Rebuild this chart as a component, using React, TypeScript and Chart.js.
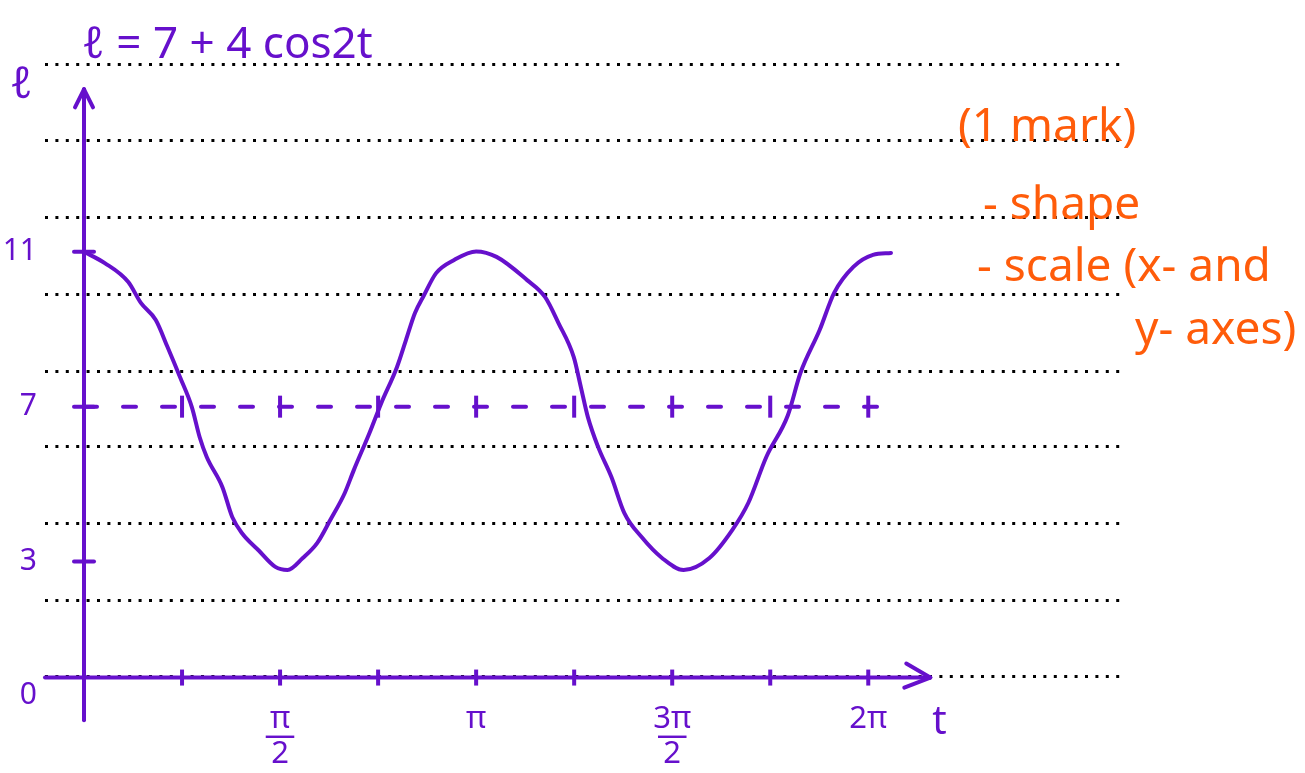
import React, { useEffect, useRef } from "react";
import { Chart, registerables } from "chart.js";

Chart.register(...registerables);

const PURPLE = "#6610cc";
const ORANGE = "#ff5c0a";
const FONT = "'Noto Sans', 'DejaVu Sans', sans-serif";

// Points along the sketched curve: t (in multiples of π) and ℓ
const curveTInPi = [
  0, 0.053, 0.113, 0.145, 0.183, 0.213, 0.245, 0.275, 0.295, 0.313,
  0.353, 0.378, 0.403, 0.445, 0.488, 0.519, 0.558, 0.595, 0.628, 0.665,
  0.688, 0.728, 0.758, 0.798, 0.821, 0.844, 0.867, 0.898, 0.944, 1.0,
  1.052, 1.13, 1.176, 1.21, 1.249, 1.267, 1.285, 1.311, 1.345, 1.378,
  1.422, 1.474, 1.529, 1.595, 1.653, 1.694, 1.74, 1.795, 1.827, 1.876,
  1.913, 1.962, 2.012, 2.058,
];
const curveL = [
  11.0, 10.71, 10.22, 9.68, 9.24, 8.54, 7.76, 6.99, 6.21, 5.7,
  4.92, 4.15, 3.73, 3.29, 2.86, 2.78, 3.09, 3.48, 4.07, 4.77,
  5.36, 6.32, 7.09, 8.02, 8.72, 9.42, 9.88, 10.45, 10.79, 11.01,
  10.87, 10.27, 9.83, 9.16, 8.28, 7.51, 6.73, 5.96, 5.18, 4.25,
  3.63, 3.09, 2.78, 3.09, 3.81, 4.51, 5.7, 6.78, 7.87, 8.98,
  9.94, 10.61, 10.92, 10.97,
];

// Centre line ℓ = 7 and its extent
const meanL = 7;
const meanGuideEndInPi = 2.08;

// Quarter-period marks (multiples of π)
const quarterMarksInPi = [0.25, 0.5, 0.75, 1, 1.25, 1.5, 1.75, 2];

// Axis labels
const yTickValues = [0, 3, 7, 11];
const xLabelTInPi = [0.5, 1, 1.5, 2];
const xLabelText: (string | string[])[] = [["π", "—", "2"], "π", ["3π", "—", "2"], "2π"];

// Ruled notebook lines (in ℓ units)
const ruleLines = [0.04, 2.0, 3.97, 5.96, 7.92, 9.91, 11.9, 13.88, 15.85];

// Scale extents
const xMin = -0.3125;
const xMax = 8.3;
const yMin = -1.2;
const yMax = 16.5;

// Hand-drawn axis extents
const xAxisStart = xMin;
const xArrowTip = 6.78;
const yAxisBottom = -1.1;
const yArrowTip = 15.2;

const titleText = "ℓ = 7 + 4 cos2t";
const notes = ["(1 mark)", "- shape", "- scale (x- and", "y- axes)"];
const notePos = [
  { x: 958, y: 141 },
  { x: 983, y: 219 },
  { x: 977, y: 281 },
  { x: 1135, y: 344 },
];

const handDrawn = {
  id: "handDrawn",
  afterDatasetsDraw(chart: any) {
    const { ctx } = chart;
    const x = chart.scales.x;
    const y = chart.scales.y;
    const line = (x1: number, y1: number, x2: number, y2: number) => {
      ctx.beginPath();
      ctx.moveTo(x1, y1);
      ctx.lineTo(x2, y2);
      ctx.stroke();
    };
    ctx.save();
    ctx.strokeStyle = PURPLE;
    ctx.lineWidth = 4;
    ctx.lineCap = "round";
    ctx.lineJoin = "round";

    // vertical ℓ axis with arrow
    const x0 = x.getPixelForValue(0);
    const yTop = y.getPixelForValue(yArrowTip);
    line(x0, y.getPixelForValue(yAxisBottom), x0, yTop);
    line(x0 - 9, yTop + 18, x0, yTop);
    line(x0 + 9, yTop + 18, x0, yTop);

    // horizontal t axis with arrow
    const y0 = y.getPixelForValue(0);
    const xEnd = x.getPixelForValue(xArrowTip);
    line(x.getPixelForValue(xAxisStart), y0, xEnd, y0);
    line(xEnd - 24, y0 - 14, xEnd, y0);
    line(xEnd - 26, y0 + 10, xEnd, y0);

    // tick marks on the ℓ axis
    yTickValues.filter((v) => v !== 0).forEach((v) => {
      const py = y.getPixelForValue(v);
      line(x0 - 10, py, x0 + 10, py);
    });

    // purple text
    ctx.fillStyle = PURPLE;
    ctx.textBaseline = "alphabetic";
    ctx.textAlign = "left";
    ctx.font = `44px ${FONT}`;
    ctx.fillText(titleText, x0 - 2, 58);
    ctx.font = `44px ${FONT}`;
    ctx.fillText("ℓ", 10, 98);
    ctx.font = `40px ${FONT}`;
    ctx.fillText("t", xEnd + 2, y0 + 56);

    // orange marking notes
    ctx.fillStyle = ORANGE;
    ctx.font = `46px ${FONT}`;
    notes.forEach((n, i) => ctx.fillText(n, notePos[i].x, notePos[i].y));
    ctx.restore();
  },
};

export default function App() {
  const canvasRef = useRef<HTMLCanvasElement | null>(null);

  useEffect(() => {
    if (!canvasRef.current) return;
    const curve = curveTInPi.map((tp, i) => ({ x: tp * Math.PI, y: curveL[i] }));
    const meanGuide = [
      { x: 0, y: meanL },
      { x: meanGuideEndInPi * Math.PI, y: meanL },
    ];
    const guideMarks = quarterMarksInPi.map((tp) => ({ x: tp * Math.PI, y: meanL }));
    const axisMarks = quarterMarksInPi.map((tp) => ({ x: tp * Math.PI, y: 0 }));

    const chart = new Chart(canvasRef.current, {
      type: "line",
      data: {
        datasets: [
          {
            label: "ℓ = 7 + 4 cos2t",
            data: curve,
            borderColor: PURPLE,
            borderWidth: 4,
            pointRadius: 0,
            cubicInterpolationMode: "monotone",
            borderCapStyle: "round",
            borderJoinStyle: "round",
          },
          {
            label: "ℓ = 7",
            data: meanGuide,
            borderColor: PURPLE,
            borderWidth: 4,
            borderDash: [13, 26],
            pointRadius: 0,
            borderCapStyle: "round",
          },
          {
            label: "marks on ℓ = 7",
            data: guideMarks,
            showLine: false,
            pointStyle: "line",
            rotation: 90,
            pointRadius: 11,
            borderWidth: 4,
            borderColor: PURPLE,
          },
          {
            label: "marks on t axis",
            data: axisMarks,
            showLine: false,
            pointStyle: "line",
            rotation: 90,
            pointRadius: 8,
            borderWidth: 4,
            borderColor: PURPLE,
          },
        ],
      },
      options: {
        animation: false,
        responsive: true,
        maintainAspectRatio: false,
        layout: { padding: { top: 39, bottom: 49, left: 0, right: 185 } },
        plugins: {
          legend: { display: false },
          tooltip: { enabled: false },
          title: { display: false },
        },
        scales: {
          x: {
            type: "linear",
            position: { y: 0 },
            min: xMin,
            max: xMax,
            afterBuildTicks: (s: any) => {
              s.ticks = xLabelTInPi.map((tp) => ({ value: tp * Math.PI }));
            },
            ticks: {
              color: PURPLE,
              font: { family: FONT, size: 31, lineHeight: 0.56 },
              padding: 33,
              maxRotation: 0,
              autoSkip: false,
              callback: (_v: any, i: number) => xLabelText[i],
            },
            grid: { display: false, drawTicks: false },
            border: { display: false },
          },
          y: {
            type: "linear",
            position: "left",
            min: yMin,
            max: yMax,
            afterFit: (s: any) => {
              s.width = 45;
            },
            afterBuildTicks: (s: any) => {
              s.ticks = yTickValues.map((v) => ({ value: v }));
            },
            ticks: {
              color: PURPLE,
              font: { family: FONT, size: 30 },
              padding: 8,
              callback: (v: any) => (v === 0 ? ["", "0"] : String(v)),
            },
            grid: { display: false, drawTicks: false },
            border: { display: false },
          },
          rules: {
            type: "linear",
            position: "left",
            min: yMin,
            max: yMax,
            afterFit: (s: any) => {
              s.width = 0;
            },
            afterBuildTicks: (s: any) => {
              s.ticks = ruleLines.map((v) => ({ value: v }));
            },
            ticks: { display: false },
            grid: { color: "#000", lineWidth: 3, drawTicks: false },
            border: { display: false, dash: [3, 7.4] },
          },
        },
      } as any,
      plugins: [handDrawn],
    });
    return () => chart.destroy();
  }, []);

  return (
    <div
      style={{
        position: "fixed",
        left: 0,
        top: 0,
        width: 1305,
        height: 773,
        background: "#fff",
      }}
    >
      <canvas ref={canvasRef} />
    </div>
  );
}
